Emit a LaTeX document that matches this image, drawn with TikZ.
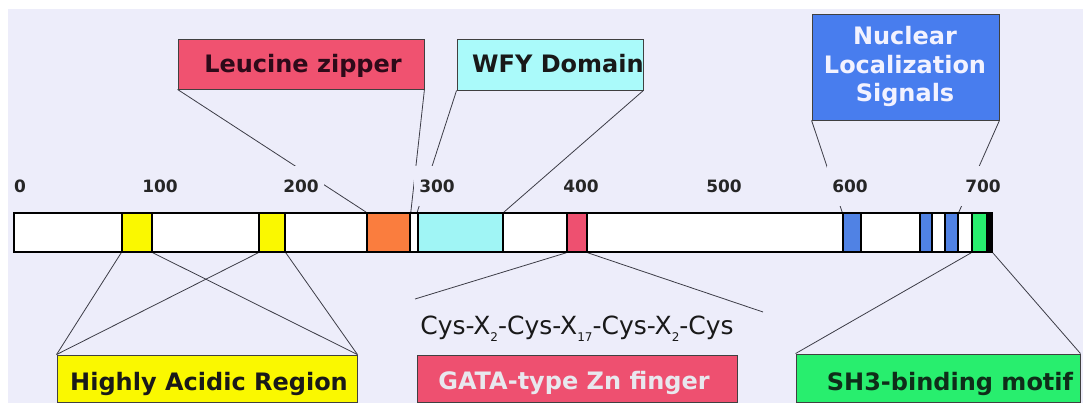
\documentclass[tikz,border=0pt]{standalone}
\usepackage{fontspec}
\setmainfont{DejaVu Sans}
\definecolor{bg}{RGB}{237,237,250}
\definecolor{leucol}{RGB}{240,82,112}
\definecolor{wfycol}{RGB}{170,250,250}
\definecolor{nlscol}{RGB}{72,125,238}
\definecolor{yel}{RGB}{250,248,0}
\definecolor{ora}{RGB}{250,125,62}
\definecolor{cya}{RGB}{160,245,245}
\definecolor{pnk}{RGB}{238,80,112}
\definecolor{blu}{RGB}{80,130,228}
\definecolor{grn}{RGB}{40,238,110}
\definecolor{linec}{RGB}{60,60,70}
\newcommand{\xsub}[1]{X\raisebox{-0.55ex}{\fontsize{12}{12}\selectfont #1}}
\tikzset{
  seg/.style={draw=black, line width=1.6pt, inner sep=0pt, minimum height=39pt},
  barst/.style={draw=black, fill=white, line width=2.4pt, inner sep=0pt, minimum height=39pt},
  lbox/.style={draw=black!75, line width=0.9pt, inner sep=0pt},
  conn/.style={draw=linec, line width=0.8pt},
  tick/.style={fill=bg, inner xsep=5pt, inner ysep=0pt, minimum height=40pt, text=black!85,
    font=\fontsize{17}{17}\selectfont\bfseries},
  big/.style={inner sep=0pt, anchor=base, font=\fontsize{24}{24}\selectfont\bfseries},
}
\begin{document}
\begin{tikzpicture}[x=1pt,y=-1pt]
\useasboundingbox (0,0) rectangle (1083,403);
\fill[white] (0,0) rectangle (1083,403);
\fill[bg] (8,9) rectangle (1083,403);

% connector end coordinates
\coordinate (gl) at (415,299);
\coordinate (gr) at (763,312);

% bar segments (positions first so connectors can use them)
\node[barst, minimum width=978pt] (bar) at (503,232.5) {};
\node[seg, fill=yel, minimum width=30pt] (y1) at (137,232.5) {};
\node[seg, fill=yel, minimum width=26pt] (y2) at (272,232.5) {};
\node[seg, fill=ora, minimum width=43pt] (or) at (388.5,232.5) {};
\node[seg, fill=cya, minimum width=85pt] (cy) at (460.5,232.5) {};
\node[seg, fill=pnk, minimum width=20pt] (pk) at (577,232.5) {};
\node[seg, fill=blu, minimum width=18pt] (b1) at (852,232.5) {};
\node[seg, fill=blu, minimum width=12pt] (b2) at (926,232.5) {};
\node[seg, fill=blu, minimum width=13pt] (b3) at (951.5,232.5) {};
\node[seg, fill=grn, minimum width=15pt] (gn) at (979.5,232.5) {};
\node[seg, fill=black, minimum width=5pt] (cend) at (989.5,232.5) {};

% label boxes
\node[lbox, fill=leucol, minimum width=246pt, minimum height=50pt] (leu) at (301,64) {};
\node[lbox, fill=wfycol, minimum width=186pt, minimum height=51pt] (wfy) at (550,64.5) {};
\node[lbox, fill=nlscol, minimum width=187pt, minimum height=106pt] (nls) at (905.5,67) {};
\node[lbox, fill=yel, minimum width=300pt, minimum height=47pt] (acid) at (207,378.5) {};
\node[lbox, fill=pnk, minimum width=320pt, minimum height=47pt] (gata) at (577,378.5) {};
\node[lbox, fill=grn, minimum width=284pt, minimum height=48pt] (sh3) at (938,378) {};

% connectors
\draw[conn] (leu.south west) -- (or.north west);
\draw[conn] (leu.south east) -- (or.north east);
\draw[conn] (wfy.south west) -- (cy.north west);
\draw[conn] (wfy.south east) -- (cy.north east);
\draw[conn] (nls.south west) -- (b1.north west);
\draw[conn] (nls.south east) -- (b3.north east);
\draw[conn] (acid.north west) -- (y1.south west);
\draw[conn] (acid.north west) -- (y2.south west);
\draw[conn] (acid.north east) -- (y1.south east);
\draw[conn] (acid.north east) -- (y2.south east);
\draw[conn] (pk.south west) -- (gl);
\draw[conn] (pk.south east) -- (gr);
\draw[conn] (sh3.north west) -- (gn.south west);
\draw[conn] (sh3.north east) -- (cend.south east);

% tick labels
\node[tick] (t0) at (20,186.5) {0};
\node[tick] (t100) at (160,186.5) {100};
\node[tick] (t200) at (301,186.5) {200};
\node[tick] (t300) at (437,186.5) {300};
\node[tick] (t400) at (581,186.5) {400};
\node[tick] (t500) at (724,186.5) {500};
\node[tick] (t600) at (850,186.5) {600};
\node[tick] (t700) at (983,186.5) {700};

% redraw bar and segments on top of connectors
\node[barst, minimum width=978pt] at (503,232.5) {};
\node[seg, fill=yel, minimum width=30pt] at (137,232.5) {};
\node[seg, fill=yel, minimum width=26pt] at (272,232.5) {};
\node[seg, fill=ora, minimum width=43pt] at (388.5,232.5) {};
\node[seg, fill=cya, minimum width=85pt] at (460.5,232.5) {};
\node[seg, fill=pnk, minimum width=20pt] at (577,232.5) {};
\node[seg, fill=blu, minimum width=18pt] at (852,232.5) {};
\node[seg, fill=blu, minimum width=12pt] at (926,232.5) {};
\node[seg, fill=blu, minimum width=13pt] at (951.5,232.5) {};
\node[seg, fill=grn, minimum width=15pt] at (979.5,232.5) {};
\node[seg, fill=black, minimum width=5pt] at (989.5,232.5) {};

% texts
\node[big, text={rgb,255:red,45;green,10;blue,25}] (leut) at (303,73) {Leucine zipper};
\node[big, anchor=base west, text=black!90] (wfyt) at (472,73) {WFY Domain};
\node[big, text=white!95!blue] (nls1) at (905,45) {Nuclear};
\node[big, text=white!95!blue] (nls2) at (905,74) {Localization};
\node[big, text=white!95!blue] (nls3) at (905,102) {Signals};
\node[big, text=black!90] (acidt) at (209,390) {Highly Acidic Region};
\node[big, text={rgb,255:red,232;green,232;blue,238}] (gatat) at (574,389) {GATA-type Zn finger};
\node[big, text={rgb,255:red,15;green,45;blue,25}] (sh3t) at (950,390) {SH3-binding motif};
\node[inner sep=0pt, anchor=base, font=\fontsize{25}{25}\selectfont, text=black!90] (cys) at (577,334)
  {Cys-\xsub{2}-Cys-\xsub{17}-Cys-\xsub{2}-Cys};
\end{tikzpicture}
\end{document}
